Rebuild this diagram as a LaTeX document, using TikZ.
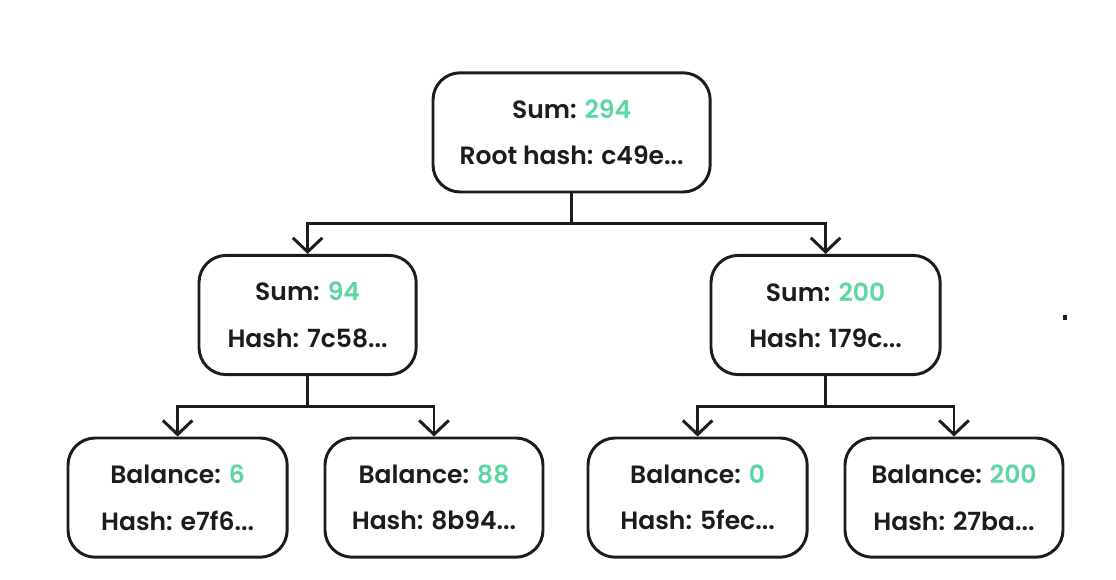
\documentclass[tikz,border=0pt]{standalone}
\usepackage{fontspec}
\setmainfont{Poppins}[BoldFont={Poppins SemiBold}]
\usepackage{tikz}
\usetikzlibrary{arrows.meta,positioning,calc}
\definecolor{sumgreen}{HTML}{5ED6A0}
\definecolor{ink}{HTML}{1C1C1C}

\begin{document}
\begin{tikzpicture}[
    acct/.style={draw=ink, line width=2.1pt, rounded corners=0.68cm, minimum height=2.98cm, align=center, text=ink, font=\fontsize{17.8}{33}\selectfont\bfseries, fill=white},
    arr/.style={-{Straight Barb[length=10pt, width=21pt]}, line width=2.1pt, draw=ink}
]
\useasboundingbox (0,0) rectangle (27.9,-14.5);
\node[acct, minimum width=6.93cm] (root) at (14.29,-3.31) {Sum: \textcolor{sumgreen}{294}\\Root hash: c49e...};
\node[acct, minimum width=5.43cm] (sumL) at (7.69,-7.875) {Sum: \textcolor{sumgreen}{94}\\Hash: 7c58...};
\node[acct, minimum width=5.73cm] (sumR) at (20.64,-7.875) {Sum: \textcolor{sumgreen}{200}\\Hash: 179c...};
\node[acct, minimum width=5.48cm] (leafA) at (4.44,-12.44) {Balance: \textcolor{sumgreen}{6}\\Hash: e7f6...};
\node[acct, minimum width=5.45cm] (leafB) at (10.85,-12.44) {Balance: \textcolor{sumgreen}{88}\\Hash: 8b94...};
\node[acct, minimum width=5.48cm] (leafC) at (17.44,-12.44) {Balance: \textcolor{sumgreen}{0}\\Hash: 5fec...};
\node[acct, minimum width=5.45cm] (leafD) at (23.85,-12.44) {Balance: \textcolor{sumgreen}{200}\\Hash: 27ba...};

\draw[arr] (root.south) -- ++(0,-0.75) -| (sumL.north);
\draw[arr] (root.south) -- ++(0,-0.75) -| (sumR.north);
\draw[arr] (sumL.south) -- ++(0,-0.76) -| (leafA.north);
\draw[arr] (sumL.south) -- ++(0,-0.76) -| (leafB.north);
\draw[arr] (sumR.south) -- ++(0,-0.76) -| (leafC.north);
\draw[arr] (sumR.south) -- ++(0,-0.76) -| (leafD.north);

\fill[ink] (26.58,-7.88) rectangle ++(0.1,-0.12);
\end{tikzpicture}
\end{document}
